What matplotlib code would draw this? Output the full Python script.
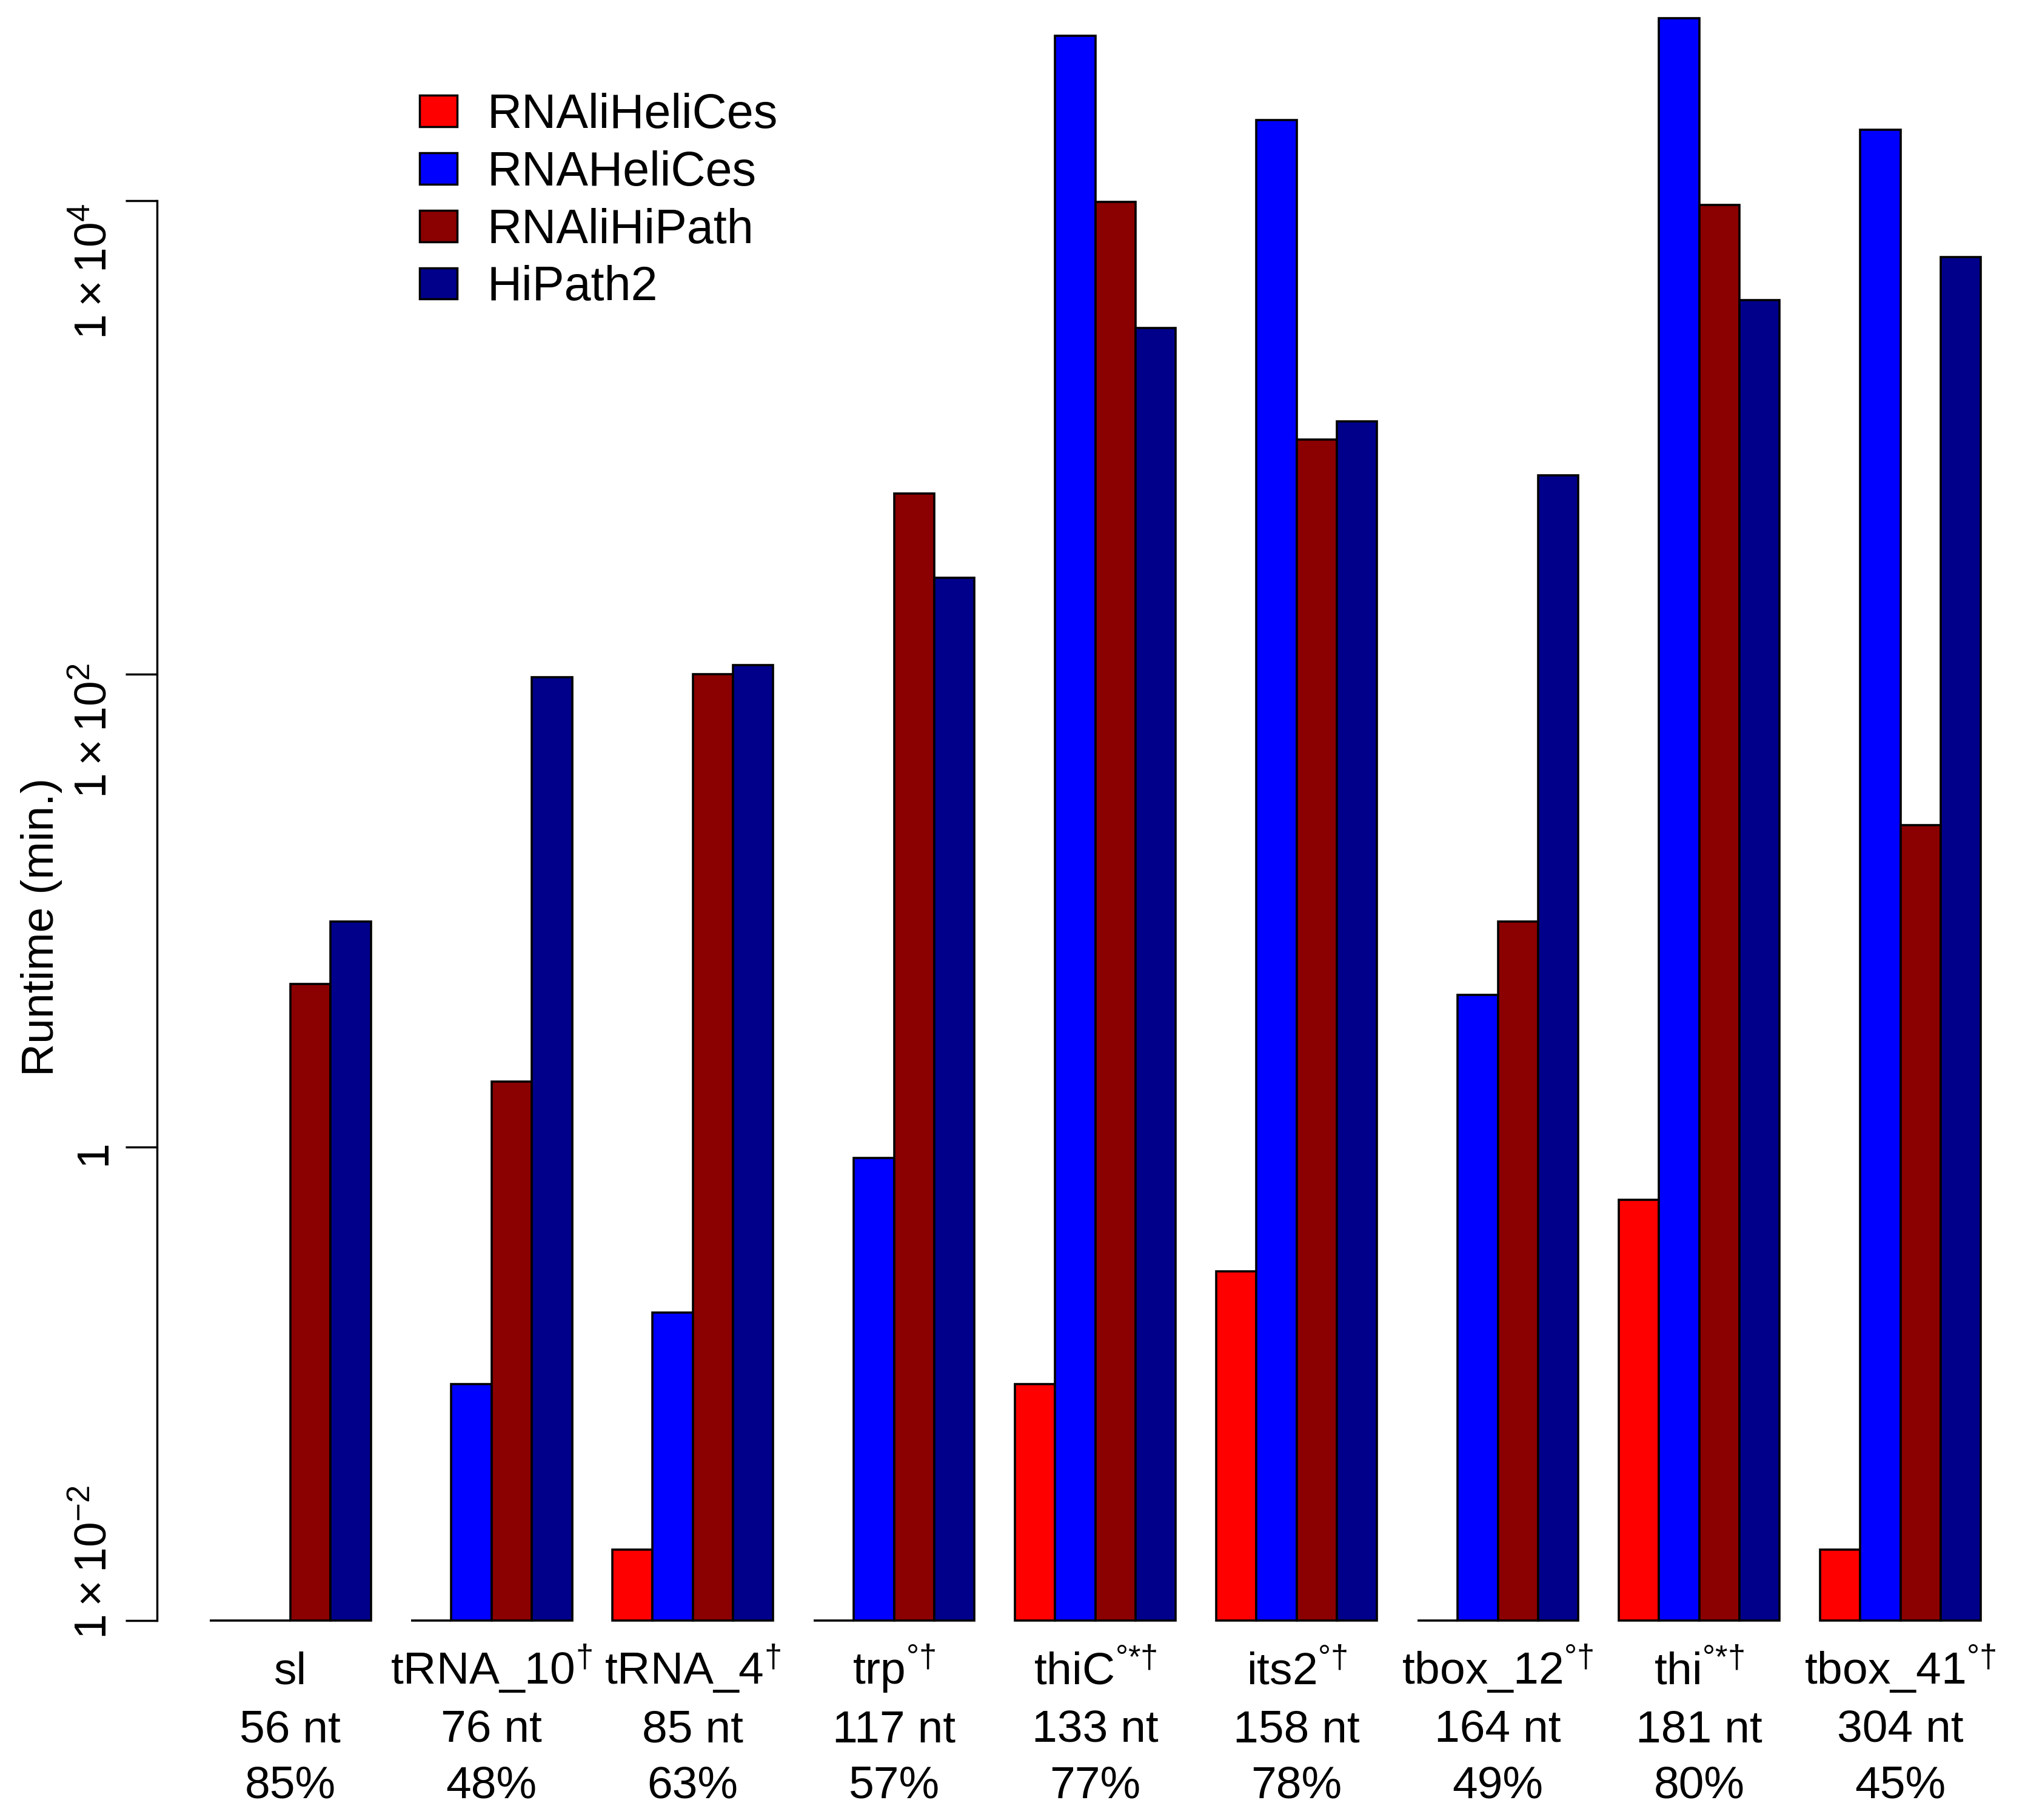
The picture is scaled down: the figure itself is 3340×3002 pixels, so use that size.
import matplotlib
matplotlib.use('Agg')
import matplotlib.pyplot as plt
import matplotlib.transforms as mtransforms
from matplotlib.patches import Patch
from matplotlib.ticker import NullLocator

plt.rcParams['font.family'] = ['Liberation Sans', 'DejaVu Sans']
plt.rcParams['mathtext.fontset'] = 'custom'
plt.rcParams['mathtext.rm'] = 'Liberation Sans'
plt.rcParams['mathtext.it'] = 'Liberation Sans'
plt.rcParams['mathtext.bf'] = 'Liberation Sans:bold'
plt.rcParams['mathtext.default'] = 'regular'

# ---------------- data ----------------
families = ['sl', 'tRNA_10', 'tRNA_4', 'trp', 'thiC', 'its2', 'tbox_12', 'thi', 'tbox_41']
marks = ['', '†', '†', '°†', '°*†', '°†', '°†', '°*†', '°†']
lengths = [56, 76, 85, 117, 133, 158, 164, 181, 304]
identity = [85, 48, 63, 57, 77, 78, 49, 80, 45]

series = ['RNAliHeliCes', 'RNAHeliCes', 'RNAliHiPath', 'HiPath2']
colors = ['#FF0000', '#0000FF', '#8B0000', '#00008B']
rnalihelices = [0, 0, 0.02, 0, 0.1, 0.3, 0, 0.6, 0.02]
rnahelices = [0, 0.1, 0.2, 0.9, 50000, 22000, 4.4, 59000, 20000]
rnalihipath = [4.9, 1.9, 100, 580, 9900, 980, 9, 9600, 23]
hipath2 = [9, 97, 109, 256, 2900, 1170, 692, 3800, 5800]
values = [rnalihelices, rnahelices, rnalihipath, hipath2]

ytick_vals = [1e-2, 1, 1e2, 1e4]
ytick_labels = [r'$1\times10^{-2}$', '1', r'$1\times10^{2}$', r'$1\times10^{4}$']

# ---------------- figure ----------------
W, H, DPI = 3341, 3002, 100
fig = plt.figure(figsize=(W / DPI, H / DPI), dpi=DPI)
fig.patch.set_facecolor('white')

ax = fig.add_axes([259 / W, 1 - 2673 / H, 1 - 259 / W, 2673 / H])
ax.set_yscale('log')
base = ytick_vals[0]
ax.set_ylim(base, 10 ** 4.849)
ax.set_xlim(-0.31, 46.11)

n_series = len(series)
group_w = n_series + 1
for s, (name, col, vals) in enumerate(zip(series, colors, values)):
    xs = [group_w * g + 1 + s for g in range(len(families))]
    hs = [max(v, base) - base for v in vals]
    ax.bar(xs, hs, width=1, bottom=base, align='edge', color=col,
           edgecolor='black', linewidth=2.6, label=name, clip_on=False)

for sp in ['top', 'right', 'bottom']:
    ax.spines[sp].set_visible(False)
ax.spines['left'].set_bounds(ytick_vals[0], ytick_vals[-1])
ax.spines['left'].set_linewidth(2.5)
ax.set_yticks(ytick_vals)
ax.yaxis.set_minor_locator(NullLocator())
ax.tick_params(axis='y', length=37.4, width=2.5, labelleft=False)
ax.set_xticks([])

# y tick labels (rotated, R style)
fs = 54
label_offsets_px = [96, -9, -94, -116]
for v, lab, off in zip(ytick_vals, ytick_labels, label_offsets_px):
    tr = mtransforms.blended_transform_factory(fig.transFigure, ax.transData)
    tr = mtransforms.offset_copy(tr, fig=fig, y=off, units='dots')
    ax.text(155 / W, v, lab, transform=tr, rotation=90, ha='center', va='center',
            fontsize=fs, clip_on=False)

# y axis title
fig.text(69 / W, 1 - 1529 / H, 'Runtime (min.)', rotation=90, ha='center', va='center',
         fontsize=fs)

# group labels
trx = mtransforms.blended_transform_factory(ax.transData, fig.transFigure)
for g, (fam, mk, ln, ident) in enumerate(zip(families, marks, lengths, identity)):
    xc = group_w * g + 1 + n_series / 2
    lab = fam if not mk else fam + r'$^{\text{' + mk + '}}$'
    ax.text(xc, 1 - 2778 / H, lab, transform=trx, ha='center', va='baseline',
            fontsize=fs, clip_on=False)
    ax.text(xc, 1 - 2873 / H, f'{ln} nt', transform=trx, ha='center', va='baseline',
            fontsize=fs, clip_on=False)
    ax.text(xc, 1 - 2965 / H, f'{ident}%', transform=trx, ha='center', va='baseline',
            fontsize=fs, clip_on=False)

# legend
handles = [Patch(facecolor=c, edgecolor='black', linewidth=2.5) for c in colors]
leg = ax.legend(handles, series, loc='upper left',
                bbox_to_anchor=(692 / W, 1 - 153 / H), bbox_transform=fig.transFigure,
                frameon=False, fontsize=57, borderpad=0, borderaxespad=0,
                handlelength=0.78, handleheight=0.63, handletextpad=0.63,
                labelspacing=0.25)

fig.savefig('out.png', dpi=DPI, facecolor='white')
